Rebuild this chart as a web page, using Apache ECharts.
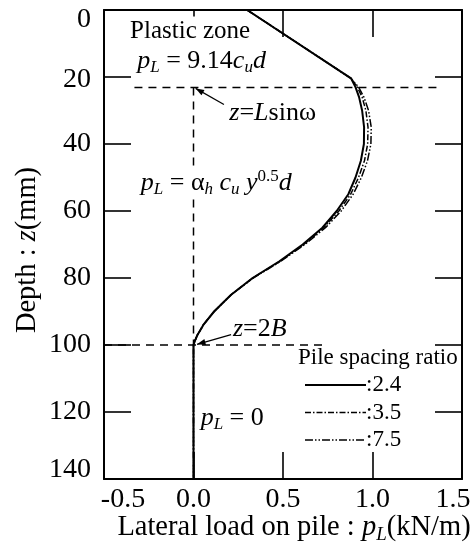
<!DOCTYPE html>
<html>
<head>
<meta charset="utf-8">
<script src="https://cdn.jsdelivr.net/npm/echarts@6/dist/echarts.min.js"></script>
<style>html,body{margin:0;padding:0;background:#fff;}#c{width:472px;height:544px;}</style>
</head>
<body>
<div id="c"></div>
<script>
// ---- data ----
const depth  = [0, 20.4, 23, 26, 30, 35, 40, 45, 50, 55, 60, 65, 70, 75, 80, 85, 90, 94, 97, 99, 100, 140];
const load24 = [0.30, 0.88, 0.905, 0.925, 0.942, 0.953, 0.952, 0.935, 0.905, 0.865, 0.80, 0.72, 0.61, 0.48, 0.33, 0.21, 0.115, 0.055, 0.022, 0.006, 0, 0];
const load35 = [0.30, 0.88, 0.915, 0.942, 0.963, 0.975, 0.973, 0.955, 0.922, 0.878, 0.812, 0.728, 0.616, 0.484, 0.332, 0.21, 0.115, 0.055, 0.022, 0.006, 0, 0];
const load75 = [0.30, 0.88, 0.922, 0.952, 0.978, 0.993, 0.991, 0.972, 0.938, 0.892, 0.825, 0.737, 0.622, 0.487, 0.334, 0.21, 0.115, 0.055, 0.022, 0.006, 0, 0];
const seriesNames = [':2.4', ':3.5', ':7.5'];
const legendTitle = 'Pile spacing ratio';
const xTitle = '{n|Lateral load on pile : }{i|p}{s|L}{n|(kN/m)}';
const yTitle = '{n|Depth : }{i|z}{n|(mm)}';
// reference lines (data units)
const zLsin = 23.1;     // z = L sin(omega)
const z2B = 100;        // z = 2B
const hLine1 = [[-0.33, zLsin], [1.37, zLsin]];
const hLine2 = [[-0.5, z2B], [0.75, z2B]];
const vLine  = [[0, zLsin], [0, z2B]];

const F = 'Liberation Serif, Times New Roman, serif';
const zip = (xs, ys) => xs.map((v, i) => [v, ys[i]]);
const styles = [
  {color: '#000', width: 2, type: 'solid'},
  {color: '#000', width: 1.5, type: [6, 2, 1.5, 2]},
  {color: '#000', width: 1.5, type: [8, 2, 1.5, 2, 1.5, 2]}
];

const chart = echarts.init(document.getElementById('c'), null, {renderer: 'canvas'});

const axisCommon = {
  type: 'value',
  axisLine: {show: true, onZero: false, lineStyle: {color: '#000', width: 2}},
  axisTick: {show: true, inside: true, length: 27, lineStyle: {color: '#000', width: 1.6}},
  splitLine: {show: false}
};
const richBase = {
  i: {fontFamily: F, fontStyle: 'italic', fontSize: 26, color: '#000', lineHeight: 30},
  s: {fontFamily: F, fontStyle: 'italic', fontSize: 17, color: '#000', lineHeight: 17, verticalAlign: 'bottom'},
  n: {fontFamily: F, fontSize: 26, color: '#000', lineHeight: 30}
};
const richTitle = {
  i: {fontFamily: F, fontStyle: 'italic', fontSize: 28.5, color: '#000', lineHeight: 32},
  s: {fontFamily: F, fontStyle: 'italic', fontSize: 19, color: '#000', lineHeight: 19, verticalAlign: 'bottom'},
  n: {fontFamily: F, fontSize: 28.5, color: '#000', lineHeight: 32}
};
const tickFont = {fontFamily: F, fontSize: 28, color: '#000'};

chart.setOption({
  animation: false,
  backgroundColor: '#fff',
  grid: {left: 104, right: 10, top: 10, bottom: 65, containLabel: false, outerBoundsMode: 'none'},
  xAxis: [
    Object.assign({}, axisCommon, {
      position: 'bottom', min: -0.5, max: 1.5, interval: 0.5,
      axisLabel: {margin: 7, fontFamily: F, fontSize: 28, color: '#000',
        formatter: v => v === -0.5 ? '{l|' + v.toFixed(1) + '}' : v === 1.5 ? '{r|' + v.toFixed(1) + '}' : '{t|' + v.toFixed(1) + '}',
        rich: {
          t: tickFont,
          l: Object.assign({padding: [0, 0, 0, 38]}, tickFont),
          r: Object.assign({padding: [0, 18, 0, 0]}, tickFont)
        }}
    }),
    Object.assign({}, axisCommon, {
      position: 'top', min: -0.5, max: 1.5, interval: 0.5, axisLabel: {show: false}
    })
  ],
  yAxis: [
    Object.assign({}, axisCommon, {
      position: 'left', inverse: true, min: 0, max: 140, interval: 20,
      axisLabel: {margin: 13, fontFamily: F, fontSize: 28, color: '#000',
        formatter: v => v === 0 ? '{a|0}' : v === 140 ? '{b|140}' : v === 20 ? '{c|20}' : '{t|' + v + '}',
        rich: {
          t: tickFont,
          a: Object.assign({padding: [20, 0, 0, 0]}, tickFont),
          b: Object.assign({padding: [0, 0, 18, 0]}, tickFont),
          c: Object.assign({padding: [6, 0, 0, 0]}, tickFont)
        }}
    }),
    Object.assign({}, axisCommon, {
      position: 'right', inverse: true, min: 0, max: 140, interval: 20, axisLabel: {show: false}
    })
  ],
  series: [
    {name: seriesNames[0], type: 'line', data: zip(load24, depth), symbol: 'none', silent: true, z: 5, lineStyle: styles[0]},
    {name: seriesNames[1], type: 'line', data: zip(load35, depth), symbol: 'none', silent: true, z: 4, lineStyle: styles[1]},
    {name: seriesNames[2], type: 'line', data: zip(load75, depth), symbol: 'none', silent: true, z: 4, lineStyle: styles[2]},
    {type: 'line', data: hLine1, symbol: 'none', silent: true, lineStyle: {color: '#000', width: 1.5, type: [8, 6]}},
    {type: 'line', data: hLine2, symbol: 'none', silent: true, lineStyle: {color: '#000', width: 1.5, type: [8, 6]}},
    {type: 'line', data: vLine, symbol: 'none', silent: true, lineStyle: {color: '#000', width: 1.5, type: [8, 6]}}
  ]
});

// ---- annotations (placed in data units) ----
const notes = [
  {at: [-0.36, 6.4], text: '{m|Plastic zone}', bg: true},
  {at: [-0.32, 15.2], text: '{i|p}{s|L}{n| = 9.14}{i|c}{s|u}{i|d}', bg: true},
  {at: [0.20, 30.8], text: '{i|z}{n|=}{i|L}{n|sinω}'},
  {at: [-0.30, 51.6], text: '{i|p}{s|L}{n| = α}{s|h}{n| }{i|c}{s|u}{n| }{i|y}{p|0.5}{i|d}', bg: true},
  {at: [0.22, 95.2], text: '{i|z}{n|=2}{i|B}'},
  {at: [0.04, 121.8], text: '{i|p}{s|L}{n| = 0}'}
];
const arrows = [
  {from: [0.17, 28.2], to: [0.012, 23.4]},
  {from: [0.21, 96.9], to: [0.02, 99.8]}
];
const rich = Object.assign({}, richBase, {
  p: {fontFamily: F, fontSize: 17, color: '#000', lineHeight: 17, verticalAlign: 'top'},
  m: {fontFamily: F, fontSize: 25, color: '#000', lineHeight: 30},
  g: {fontFamily: F, fontSize: 23, color: '#000', lineHeight: 28}
});
const px = p => chart.convertToPixel({xAxisIndex: 0, yAxisIndex: 0}, p);
const graphics = [];
notes.forEach(n => {
  const [x, y] = px(n.at);
  graphics.push({type: 'text', x: x, y: y, z: 50,
    style: {text: n.text, rich: rich, verticalAlign: 'middle', align: 'left',
      backgroundColor: n.bg ? '#fff' : null, padding: n.bg ? [0, 1] : 0}});
});
arrows.forEach(a => {
  const [x1, y1] = px(a.from), [x2, y2] = px(a.to);
  graphics.push({type: 'line', z: 50, shape: {x1, y1, x2, y2}, style: {stroke: '#000', lineWidth: 1.2}});
  const ang = Math.atan2(y2 - y1, x2 - x1), L = 9, w = 0.35;
  graphics.push({type: 'polygon', z: 50, shape: {points: [
    [x2, y2],
    [x2 - L * Math.cos(ang - w), y2 - L * Math.sin(ang - w)],
    [x2 - L * Math.cos(ang + w), y2 - L * Math.sin(ang + w)]
  ]}, style: {fill: '#000'}});
});
// ---- axis titles (layout in pixels) ----
graphics.push({type: 'text', x: 294, y: 528, z: 50,
  style: {text: xTitle, rich: richTitle, align: 'center', verticalAlign: 'middle'}});
graphics.push({type: 'text', x: 28, y: 250, rotation: Math.PI / 2, z: 50,
  style: {text: yTitle, rich: richTitle, align: 'center', verticalAlign: 'middle'}});
// ---- legend box (layout in pixels) ----
const LG = {x: 298, titleY: 358, firstY: 385, step: 27.5, lineX0: 305, lineX1: 366, textX: 366};
graphics.push({type: 'text', x: LG.x, y: LG.titleY, z: 50,
  style: {text: '{g|' + legendTitle + '}', rich: rich, verticalAlign: 'middle', align: 'left'}});
seriesNames.forEach((n, k) => {
  const y = LG.firstY + k * LG.step;
  graphics.push({type: 'line', z: 50, shape: {x1: LG.lineX0, y1: y, x2: LG.lineX1, y2: y},
    style: {stroke: styles[k].color, lineWidth: styles[k].width, lineDash: styles[k].type === 'solid' ? null : styles[k].type}});
  graphics.push({type: 'text', x: LG.textX, y: y, z: 50,
    style: {text: '{g|' + n + '}', rich: rich, verticalAlign: 'middle', align: 'left'}});
});
chart.setOption({graphic: graphics});
</script>
</body>
</html>
